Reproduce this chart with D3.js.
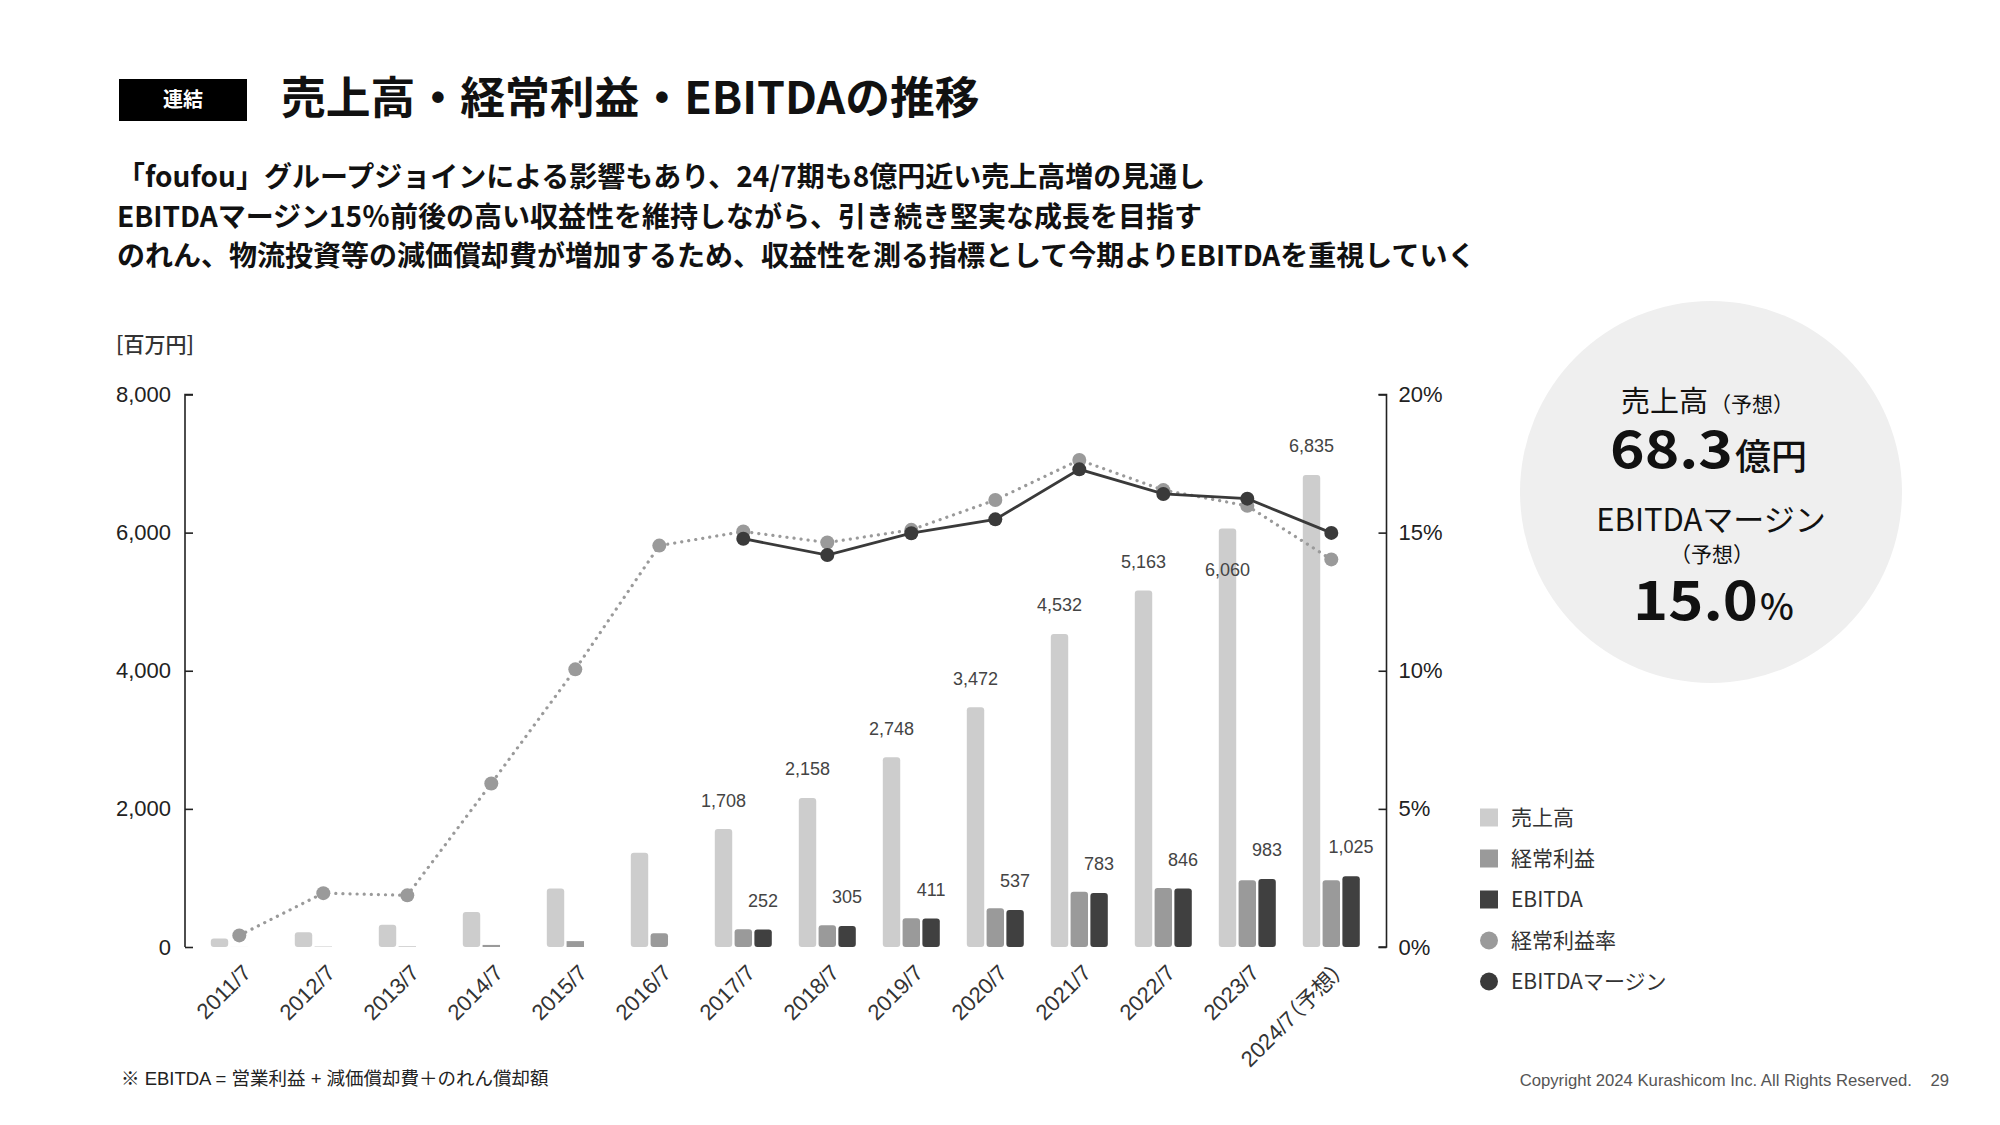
<!DOCTYPE html>
<html><head><meta charset="utf-8">
<script src="https://cdn.jsdelivr.net/npm/d3@7"></script>
<style>
html,body{margin:0;padding:0;background:#fff;}
svg{display:block;}
.palt{font-feature-settings:"palt";}
</style></head>
<body>
<svg id="chart" width="2000" height="1125"></svg>
<script>
const categories = ["2011/7","2012/7","2013/7","2014/7","2015/7","2016/7","2017/7","2018/7","2019/7","2020/7","2021/7","2022/7","2023/7","2024/7（予想）"];
const sales = [122, 213, 323, 506, 847, 1365, 1708, 2158, 2748, 3472, 4532, 5163, 6060, 6835];
const ordinaryProfit = [0.5, 4, 6, 30, 85, 198, 257, 316, 415, 562, 799, 854, 966, 965];
const ebitda = [null, null, null, null, null, null, 252, 305, 411, 537, 783, 846, 983, 1025];
const ordinaryMargin = [0.42, 1.95, 1.87, 5.92, 10.05, 14.53, 15.04, 14.64, 15.10, 16.18, 17.63, 16.54, 15.97, 14.03];
const ebitdaMargin = [null, null, null, null, null, null, 14.78, 14.19, 14.98, 15.48, 17.29, 16.40, 16.23, 14.99];
const salesLabelFrom = 6;
const leftTicks = [0, 2000, 4000, 6000, 8000];
const rightTicks = [0, 5, 10, 15, 20];
const seriesNames = ["売上高", "経常利益", "EBITDA"];
const lineNames = ["経常利益率", "EBITDAマージン"];

const svg = d3.select("#chart");
const JP = "'Noto Sans CJK JP','Noto Sans',sans-serif";
const AR = "'Liberation Sans',Arial,'Noto Sans CJK JP',sans-serif";
const C = {sales:"#cdcdcd", ord:"#9a9a9a", ebitda:"#404040", ordDot:"#9a9a9a", ebDot:"#3a3a3a", text:"#333"};

// Header
svg.append("rect").attr("x",119).attr("y",79).attr("width",128).attr("height",42).attr("fill","#000");
svg.append("text").attr("x",183).attr("y",100).attr("dy","0.36em").attr("text-anchor","middle")
  .attr("font-family",JP).attr("font-weight",700).attr("font-size",20).attr("fill","#fff").text("連結");
svg.append("text").attr("x",281).attr("y",98).attr("dy","0.36em")
  .attr("font-family",JP).attr("font-weight",700).attr("font-size",44.8).attr("fill","#111")
  .text("売上高・経常利益・EBITDAの推移");

const subs = ["「foufou」グループジョインによる影響もあり、24/7期も8億円近い売上高増の見通し",
  "EBITDAマージン15％前後の高い収益性を維持しながら、引き続き堅実な成長を目指す",
  "のれん、物流投資等の減価償却費が増加するため、収益性を測る指標として今期よりEBITDAを重視していく"];
subs.forEach((s,i)=>{
  svg.append("text").attr("x",117).attr("y",177+i*39.5).attr("dy","0.36em")
    .attr("font-family",JP).attr("font-weight",700).attr("font-size",28).attr("fill","#111").text(s);
});

// Scales
const yL = d3.scaleLinear().domain([0,8000]).range([947,394.5]);
const yR = d3.scaleLinear().domain([0,20]).range([947,394.5]);
const x = d3.scaleBand().domain(categories).range([197.3,1373.3]).padding(0);
const xs = d3.scaleBand().domain(seriesNames).range([-28.5,28.5]).paddingInner(0.12);
const cx = c => x(c) + x.bandwidth()/2;

// unit
svg.append("text").attr("x",116).attr("y",344).attr("dy","0.36em")
  .attr("font-family",JP).attr("font-weight",500).attr("font-size",21).attr("fill",C.text).text("[百万円]");

// Axes
const gL = svg.append("g").attr("transform","translate(185,0)")
  .call(d3.axisRight(yL).tickValues(leftTicks).tickSize(8).tickFormat(d3.format(",")));
gL.select(".domain").attr("d","M8,394.5H0V947H0");
gL.selectAll("text").attr("x",-14).attr("text-anchor","end");
const gR = svg.append("g").attr("transform","translate(1386.5,0)")
  .call(d3.axisLeft(yR).tickValues(rightTicks).tickSize(8).tickFormat(d=>d+"%"));
gR.select(".domain").attr("d","M-8,394.5H0V947H-8");
gR.selectAll("text").attr("x",12).attr("text-anchor","start");
[gL,gR].forEach(g=>{
  g.select(".domain").attr("stroke","#222").attr("stroke-width",1.6).attr("fill","none");
  g.selectAll(".tick line").attr("stroke","#222").attr("stroke-width",1.6);
  g.selectAll("text").attr("font-family",AR).attr("font-size",22).attr("fill","#222");
});

// Bars
const barData = [];
categories.forEach((c,i)=>{
  [[seriesNames[0],sales[i],C.sales],[seriesNames[1],ordinaryProfit[i],C.ord],[seriesNames[2],ebitda[i],C.ebitda]]
   .forEach(([s,v,col])=>{ if(v!=null) barData.push({c,s,v,col}); });
});
svg.append("g").selectAll("rect").data(barData).join("rect")
  .attr("x",d=>cx(d.c)+xs(d.s))
  .attr("width",xs.bandwidth())
  .attr("y",d=>yL(d.v))
  .attr("height",d=>Math.max(0,yL(0)-yL(d.v)))
  .attr("rx",d=> (yL(0)-yL(d.v))>8 ? 3 : 0)
  .attr("fill",d=>d.col);

// Value labels
const fmt = d3.format(",");
const lblG = svg.append("g").attr("font-family",AR).attr("font-size",18).attr("fill","#444").attr("text-anchor","middle");
categories.forEach((c,i)=>{
  if(i>=salesLabelFrom){
    const inside = c==="2023/7";
    lblG.append("text").attr("x",cx(c)+xs(seriesNames[0])+xs.bandwidth()/2)
      .attr("y", inside ? yL(sales[i])+41 : yL(sales[i])-29).attr("dy","0.36em").text(fmt(sales[i]));
  }
  if(ebitda[i]!=null){
    lblG.append("text").attr("x",cx(c)+xs(seriesNames[2])+xs.bandwidth()/2)
      .attr("y",yL(ebitda[i])-29.5).attr("dy","0.36em").text(fmt(ebitda[i]));
  }
});

// Lines
const ordPts = categories.map((c,i)=>({c,v:ordinaryMargin[i]}));
const ebPts = categories.map((c,i)=>({c,v:ebitdaMargin[i]})).filter(d=>d.v!=null);
const line = d3.line().x(d=>cx(d.c)).y(d=>yR(d.v));
svg.append("path").attr("d",line(ordPts)).attr("fill","none").attr("stroke",C.ordDot)
  .attr("stroke-width",3.2).attr("stroke-dasharray","0.1 7").attr("stroke-linecap","round");
svg.append("g").selectAll("circle").data(ordPts).join("circle")
  .attr("cx",d=>cx(d.c)).attr("cy",d=>yR(d.v)).attr("r",7).attr("fill",C.ordDot);
svg.append("path").attr("d",line(ebPts)).attr("fill","none").attr("stroke",C.ebDot).attr("stroke-width",2.8);
svg.append("g").selectAll("circle").data(ebPts).join("circle")
  .attr("cx",d=>cx(d.c)).attr("cy",d=>yR(d.v)).attr("r",7).attr("fill",C.ebDot);

// X labels
const xl = svg.append("g").attr("class","palt").attr("font-family",AR).attr("font-size",22).attr("fill","#333");
categories.forEach(c=>{
  xl.append("text").attr("text-anchor","end")
    .attr("transform",`translate(${cx(c)+13},${974}) rotate(-45)`).text(c);
});

// Legend
const lg = svg.append("g").attr("font-family",JP).attr("font-size",21).attr("fill","#333");
const legendItems = [
  {n:seriesNames[0],col:C.sales,t:"sq"},{n:seriesNames[1],col:C.ord,t:"sq"},{n:seriesNames[2],col:C.ebitda,t:"sq"},
  {n:lineNames[0],col:C.ordDot,t:"ci"},{n:lineNames[1],col:C.ebDot,t:"ci"}];
legendItems.forEach((d,i)=>{
  const yy = 817.5 + i*41;
  if(d.t==="sq") lg.append("rect").attr("x",1480).attr("y",yy-9).attr("width",18).attr("height",18).attr("fill",d.col);
  else lg.append("circle").attr("cx",1489).attr("cy",yy).attr("r",9).attr("fill",d.col);
  lg.append("text").attr("x",1511).attr("y",yy).attr("dy","0.36em").text(d.n);
});

// Forecast circle
svg.append("circle").attr("cx",1711).attr("cy",492).attr("r",191).attr("fill","#efefef");
const t1 = svg.append("text").attr("x",1621).attr("y",412).attr("font-family",JP).attr("fill","#111");
t1.append("tspan").attr("font-size",29).text("売上高");
t1.append("tspan").attr("font-size",21).attr("dx",2).text("（予想）");
svg.append("text").attr("x",1610).attr("y",468).attr("font-family",JP).attr("font-weight",700)
  .attr("font-size",52).attr("fill","#111").attr("textLength",123).attr("lengthAdjust","spacingAndGlyphs").text("68.3");
svg.append("text").attr("x",1735).attr("y",470).attr("font-family",JP).attr("font-weight",500)
  .attr("font-size",36).attr("fill","#111").text("億円");
svg.append("text").attr("x",1711).attr("y",531).attr("text-anchor","middle").attr("font-family",JP)
  .attr("font-size",31).attr("fill","#111").text("EBITDAマージン");
svg.append("text").attr("x",1712).attr("y",562).attr("text-anchor","middle").attr("font-family",JP)
  .attr("font-size",21).attr("fill","#111").text("（予想）");
svg.append("text").attr("x",1633).attr("y",620).attr("font-family",JP).attr("font-weight",700)
  .attr("font-size",54).attr("fill","#111").attr("textLength",125).attr("lengthAdjust","spacingAndGlyphs").text("15.0");
svg.append("text").attr("x",1760).attr("y",620).attr("font-family",JP).attr("font-weight",500)
  .attr("font-size",36).attr("fill","#111").text("%");

// Footer
svg.append("text").attr("x",121).attr("y",1078).attr("dy","0.36em").attr("font-family",AR)
  .attr("font-size",18.5).attr("fill","#222").text("※ EBITDA = 営業利益 + 減価償却費＋のれん償却額");
svg.append("text").attr("x",1912).attr("y",1080).attr("dy","0.36em").attr("text-anchor","end").attr("font-family",AR)
  .attr("font-size",16.7).attr("fill","#555").text("Copyright 2024 Kurashicom Inc. All Rights Reserved.");
svg.append("text").attr("x",1949).attr("y",1080).attr("dy","0.36em").attr("text-anchor","end").attr("font-family",AR)
  .attr("font-size",16.7).attr("fill","#555").text("29");
</script>
</body></html>
